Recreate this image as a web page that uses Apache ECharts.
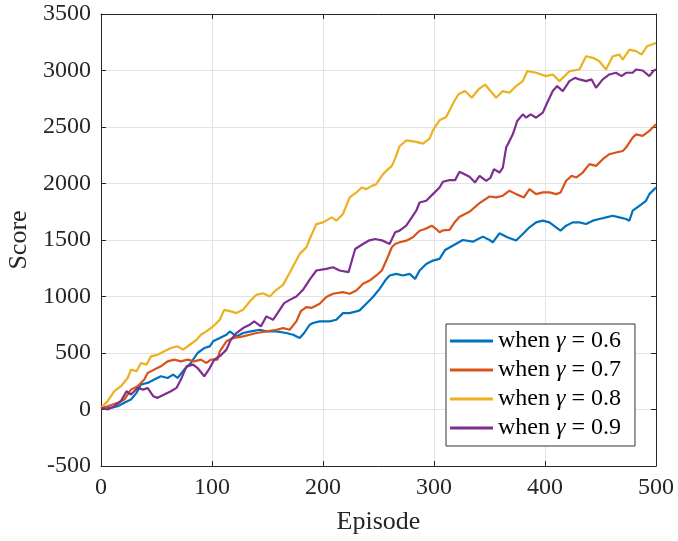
<!DOCTYPE html>
<html>
<head>
<meta charset="utf-8">
<script src="https://cdn.jsdelivr.net/npm/echarts@6/dist/echarts.min.js"></script>
<style>
html,body{margin:0;padding:0;background:#fff;}
#chart{width:678px;height:541px;}
</style>
</head>
<body>
<div id="chart"></div>
<script>
const seriesNames = ['when γ = 0.6', 'when γ = 0.7', 'when γ = 0.8', 'when γ = 0.9'];
const xTicks = [0, 100, 200, 300, 400, 500];
const yTicks = [-500, 0, 500, 1000, 1500, 2000, 2500, 3000, 3500];

const gamma06 = [[0,20],[9,15],[15,29],[21,59],[27,88],[32,147],[36,221],[42,235],[48,265],[54,294],[60,279],[65,309],[69,279],[75,353],[81,412],[87,500],[93,544],[98,559],[101,603],[107,632],[113,662],[116,691],[122,647],[128,677],[135,691],[143,706],[149,691],[158,691],[167,677],[173,662],[179,632],[183,677],[188,750],[191,765],[197,780],[206,780],[212,794],[218,853],[224,853],[230,868],[233,877],[239,936],[245,995],[251,1068],[256,1141],[260,1186],[266,1200],[272,1186],[278,1200],[283,1156],[287,1230],[293,1288],[299,1318],[305,1333],[310,1412],[318,1456],[326,1500],[335,1485],[344,1530],[350,1500],[353,1480],[359,1559],[366,1524],[374,1495],[380,1553],[386,1612],[392,1656],[398,1671],[404,1656],[410,1612],[414,1583],[419,1627],[425,1656],[431,1656],[437,1642],[443,1671],[449,1686],[455,1700],[461,1715],[467,1700],[473,1686],[476,1671],[479,1759],[485,1803],[491,1847],[494,1906],[500,1965]];

const gamma07 = [[0,10],[6,29],[15,59],[21,88],[27,176],[33,206],[39,265],[42,323],[48,353],[54,382],[60,426],[66,441],[72,426],[78,441],[84,426],[90,441],[95,412],[99,441],[105,441],[107,515],[113,603],[119,632],[128,647],[134,662],[140,677],[149,691],[158,706],[164,720],[170,706],[176,780],[180,870],[185,906],[190,900],[197,936],[203,995],[209,1024],[218,1039],[224,1024],[230,1053],[236,1112],[242,1141],[248,1186],[253,1230],[257,1318],[262,1436],[265,1465],[269,1480],[275,1494],[281,1524],[287,1582],[292,1597],[298,1627],[302,1597],[305,1568],[308,1585],[314,1589],[319,1662],[323,1706],[332,1750],[341,1827],[350,1885],[356,1877],[362,1892],[368,1936],[374,1906],[381,1877],[386,1950],[392,1906],[398,1921],[404,1921],[410,1906],[414,1921],[419,2024],[424,2068],[428,2053],[434,2097],[440,2171],[446,2156],[452,2215],[458,2259],[464,2274],[470,2288],[473,2318],[479,2406],[482,2435],[488,2421],[494,2465],[500,2524]];

const gamma08 = [[0,15],[6,74],[12,162],[18,206],[24,279],[27,353],[32,338],[36,412],[41,397],[45,470],[51,485],[57,515],[63,544],[69,559],[74,529],[80,573],[86,617],[90,661],[95,691],[101,735],[107,794],[111,882],[117,868],[122,853],[128,882],[134,956],[140,1015],[146,1029],[152,1000],[158,1059],[164,1103],[170,1210],[179,1377],[185,1435],[188,1509],[194,1641],[200,1656],[208,1700],[212,1671],[218,1730],[224,1877],[230,1920],[235,1965],[239,1950],[244,1979],[248,1994],[253,2068],[257,2112],[262,2156],[265,2220],[269,2330],[275,2382],[284,2368],[290,2353],[296,2397],[299,2470],[305,2559],[311,2588],[317,2706],[322,2790],[328,2818],[334,2759],[340,2832],[346,2876],[356,2759],[362,2818],[368,2803],[374,2862],[380,2906],[384,2994],[392,2980],[401,2950],[407,2965],[413,2906],[422,2994],[431,3009],[437,3126],[443,3112],[449,3082],[455,3009],[461,3126],[467,3141],[470,3097],[476,3185],[482,3171],[487,3141],[492,3215],[500,3244]];

const gamma09 = [[0,15],[6,0],[12,29],[18,74],[23,162],[27,132],[33,191],[38,176],[42,191],[47,118],[51,103],[57,132],[63,162],[68,191],[72,265],[77,382],[83,397],[87,367],[93,294],[98,367],[102,440],[108,480],[113,530],[117,618],[122,676],[128,721],[134,750],[138,780],[144,735],[149,824],[155,794],[161,882],[165,941],[170,970],[176,1000],[182,1059],[188,1150],[194,1230],[203,1244],[209,1259],[215,1230],[223,1215],[226,1318],[229,1420],[236,1465],[241,1494],[247,1509],[254,1494],[260,1465],[265,1568],[269,1583],[275,1627],[280,1700],[284,1759],[287,1832],[293,1847],[299,1906],[305,1965],[308,2015],[314,2030],[319,2030],[323,2104],[332,2060],[337,2009],[341,2068],[347,2024],[351,2053],[354,2127],[359,2097],[362,2141],[365,2318],[368,2377],[371,2435],[375,2553],[380,2612],[383,2582],[387,2612],[392,2582],[398,2627],[402,2715],[407,2818],[411,2862],[416,2818],[422,2906],[427,2935],[431,2921],[437,2906],[442,2921],[446,2847],[452,2921],[458,2965],[464,2980],[469,2950],[473,2980],[479,2980],[482,3009],[488,3000],[494,2950],[498,3000],[500,3009]];

const seriesData = [gamma06, gamma07, gamma08, gamma09];
const colors = ['#0072BD', '#D95319', '#EDB120', '#7E2F8E'];

const FONT = "'Liberation Serif', 'Times New Roman', serif";
const TXT = '#262626';

const chart = echarts.init(document.getElementById('chart'), null, {renderer: 'canvas'});

const axisCommon = {
  type: 'value',
  axisLine: {show: true, onZero: false, lineStyle: {color: TXT, width: 1}},
  axisTick: {show: true, inside: true, length: 5, lineStyle: {color: TXT, width: 1}}
};

const plainNum = function (v) { return String(v); };

const option = {
  animation: false,
  backgroundColor: '#fff',
  color: colors,
  grid: {left: 101, right: 22, top: 14, bottom: 75, containLabel: false, outerBoundsMode: 'none'},
  xAxis: [
    Object.assign({}, axisCommon, {
      position: 'bottom', min: xTicks[0], max: xTicks[xTicks.length - 1], interval: 100,
      name: 'Episode', nameLocation: 'middle', nameGap: 43,
      nameTextStyle: {fontFamily: FONT, fontSize: 26, color: TXT},
      axisLabel: {fontFamily: FONT, fontSize: 24, color: TXT, margin: 10, formatter: plainNum},
      splitLine: {show: true, lineStyle: {color: '#e3e3e3', width: 1}}
    }),
    Object.assign({}, axisCommon, {
      position: 'top', min: xTicks[0], max: xTicks[xTicks.length - 1], interval: 100,
      axisLabel: {show: false}, splitLine: {show: false}
    })
  ],
  yAxis: [
    Object.assign({}, axisCommon, {
      position: 'left', min: yTicks[0], max: yTicks[yTicks.length - 1], interval: 500,
      name: 'Score', nameLocation: 'middle', nameGap: 59, nameRotate: 90,
      nameTextStyle: {fontFamily: FONT, fontSize: 26, color: TXT},
      axisLabel: {fontFamily: FONT, fontSize: 24, color: TXT, margin: 10, formatter: plainNum},
      splitLine: {show: true, lineStyle: {color: '#e3e3e3', width: 1}}
    }),
    Object.assign({}, axisCommon, {
      position: 'right', min: yTicks[0], max: yTicks[yTicks.length - 1], interval: 500,
      axisLabel: {show: false}, splitLine: {show: false}
    })
  ],
  legend: {
    orient: 'vertical',
    left: 446, top: 324,
    padding: [5, 14, 6, 4],
    itemGap: 5,
    itemWidth: 43, itemHeight: 3,
    itemTextGap: 4,
    icon: 'rect',
    backgroundColor: '#fff',
    borderColor: '#333',
    borderWidth: 1,
    borderRadius: 0,
    data: seriesNames,
    formatter: function (n) {
      const p = n.split('γ');
      return '{a|' + p[0] + '}{g|γ}{a|' + p[1] + '}';
    },
    textStyle: {
      fontFamily: FONT, fontSize: 24, color: '#000',
      rich: {
        a: {fontFamily: FONT, fontSize: 24, color: '#000', lineHeight: 24},
        g: {fontFamily: FONT, fontSize: 24, fontStyle: 'italic', color: '#000', lineHeight: 24}
      }
    }
  },
  series: seriesNames.map(function (name, i) {
    return {
      name: name,
      type: 'line',
      xAxisIndex: 0, yAxisIndex: 0,
      data: seriesData[i],
      showSymbol: false,
      symbol: 'none',
      lineStyle: {width: 2.2, color: colors[i]},
      itemStyle: {color: colors[i]}
    };
  })
};

chart.setOption(option);
</script>
</body>
</html>
